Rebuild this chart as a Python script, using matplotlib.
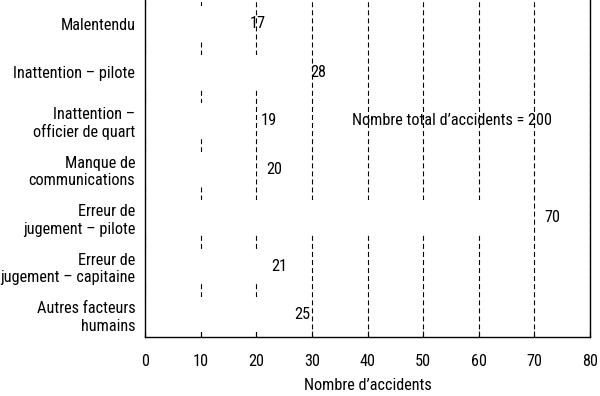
import matplotlib
matplotlib.use("Agg")
import matplotlib.pyplot as plt
from matplotlib import font_manager

categories = ["Malentendu", "Inattention – pilote", "Inattention –\nofficier de quart",
              "Manque de\ncommunications", "Erreur de\njugement – pilote",
              "Erreur de\njugement – capitaine", "Autres facteurs\nhumains"]
values = [17, 28, 19, 20, 70, 21, 25]
xticks = [0, 10, 20, 30, 40, 50, 60, 70, 80]
xlabel = "Nombre d’accidents"
note = "Nombre total d’accidents = 200"

names = {f.name for f in font_manager.fontManager.ttflist}
prefs = ["Nimbus Sans Narrow", "Liberation Sans Narrow", "Arial Narrow", "Roboto Condensed",
         "PT Sans Narrow", "Archivo Narrow", "Asap Condensed", "Liberation Sans"]
fam = next(p for p in prefs if p in names)
plt.rcParams['font.family'] = [fam, 'DejaVu Sans']
plt.rcParams['lines.scale_dashes'] = False

fig = plt.figure(figsize=(6.0, 3.96), dpi=100)
# size font so that "Malentendu" is ~75 px wide, as in the reference
probe = fig.text(0, 0, "Malentendu", fontsize=12)
fig.canvas.draw()
w = probe.get_window_extent().width
probe.remove()
fs = 12 * 75.0 / w

ax = fig.add_axes([145/600, 1-337/396, 445/600, 336.6/396])

ypos = list(range(len(categories)))
ax.set_axisbelow(True)
ax.grid(axis='x', color='black', linewidth=0.8, linestyle=(0, (3.6, 2.2)), zorder=0)
ax.barh(ypos, values, height=0.72, color='white', edgecolor='none', zorder=2)
for y, v in zip(ypos, values):
    ax.annotate(str(v), (v, y), xytext=(7, 0), textcoords='offset points',
                ha='left', va='center', fontsize=fs, color='black')

ax.text(37.2, 2, note, ha='left', va='center', fontsize=fs, color='black')

ax.set_xlim(0, 80)
ax.set_ylim(6.46, -0.48)
ax.set_xticks(xticks)
ax.set_xticklabels([str(t) for t in xticks], fontsize=fs)
ax.set_yticks(ypos)
ax.set_yticklabels(categories, fontsize=fs, linespacing=1.2)
ax.tick_params(axis='x', direction='in', length=4, width=0.8, pad=12, colors='black')
ax.tick_params(axis='y', length=0, pad=7)
ax.set_xlabel(xlabel, fontsize=fs, labelpad=7)
for s in ['left', 'right', 'bottom']:
    ax.spines[s].set_linewidth(1.0)
    ax.spines[s].set_color('black')
ax.spines['top'].set_visible(False)

fig.savefig("out.png", dpi=100)
